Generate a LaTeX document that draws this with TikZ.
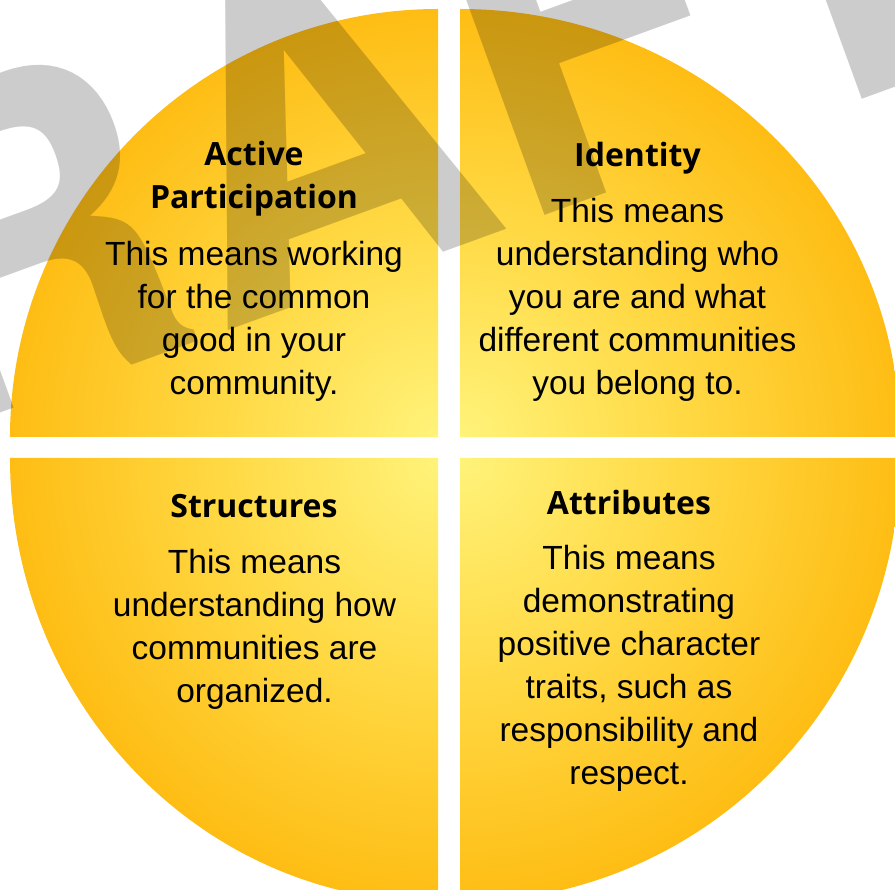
\documentclass[tikz,border=0pt]{standalone}
\usepackage{fontspec}
\setmainfont{Liberation Sans}
\newfontfamily\headfont{Open Sans}
\newfontfamily\stampfont{TeX Gyre Heros}

% warm yellow glow: pale at the corner of each quarter, amber at the rim
\definecolor{qin}{RGB}{255,243,122}
\definecolor{qmid}{RGB}{255,217,68}
\definecolor{qout}{RGB}{254,189,20}
\pgfdeclareradialshading{quadglow}{\pgfpointorigin}{%
  color(0bp)=(qin); color(12.5bp)=(qmid); color(25bp)=(qout); color(50bp)=(qout)}

% fixed height for the first line of a block, so that north = baseline - 26pt
\newcommand\capstrut{\rule{0pt}{26pt}}

% one quarter: corner (#1,#2), start angle #3, radii #4 and #5 (pt)
\newcommand\glowquarter[5]{%
  \begin{scope}
    \clip (#1,#2) -- ++(#3:#4pt and #5pt)
      arc[start angle=#3, delta angle=90, x radius=#4pt, y radius=#5pt] -- cycle;
    \shade[shading=quadglow] (#1,#2) ellipse [x radius=#4pt, y radius=#5pt];
  \end{scope}}

\begin{document}
\begin{tikzpicture}[x=1pt,y=-1pt,
  heading/.style={font=\headfont\bfseries\fontsize{32}{43}\selectfont,
    align=center, anchor=north, inner sep=0pt},
  bodytext/.style={font=\fontsize{33.5}{43}\selectfont,
    align=center, anchor=north, inner sep=0pt},
  stamp/.style={font=\stampfont\bfseries\fontsize{438}{438}\selectfont,
    text=black, text opacity=0.2, rotate=20, anchor=base, inner sep=0pt}]

\useasboundingbox (0,0) rectangle (895,890);
\clip (0,0) rectangle (895,890);

% four quarter discs separated by a white cross
\glowquarter{438}{437}{90}{428}{428}
\glowquarter{460}{437}{0}{440}{428}
\glowquarter{438}{458}{180}{428}{444}
\glowquarter{460}{458}{270}{440}{444}

% watermark
\node[stamp] (draftmark) at (320,297) {DRAFT};

% top left
\node[heading] (tl-head) at (254,139) {\capstrut Active\\Participation};
\node[bodytext] (tl-text) at (254,239) {\capstrut This means working\\for the common\\good in your\\community.};

% top right
\node[heading] (tr-head) at (637.5,140) {\capstrut Identity};
\node[bodytext] (tr-text) at (637.5,196) {\capstrut This means\\understanding who\\you are and what\\different communities\\you belong to.};

% bottom left
\node[heading] (bl-head) at (254,491) {\capstrut Structures};
\node[bodytext] (bl-text) at (254.5,547) {\capstrut This means\\understanding how\\communities are\\organized.};

% bottom right
\node[heading] (br-head) at (629,488) {\capstrut Attributes};
\node[bodytext] (br-text) at (629,543) {\capstrut This means\\demonstrating\\positive character\\traits, such as\\responsibility and\\respect.};

\end{tikzpicture}
\end{document}
